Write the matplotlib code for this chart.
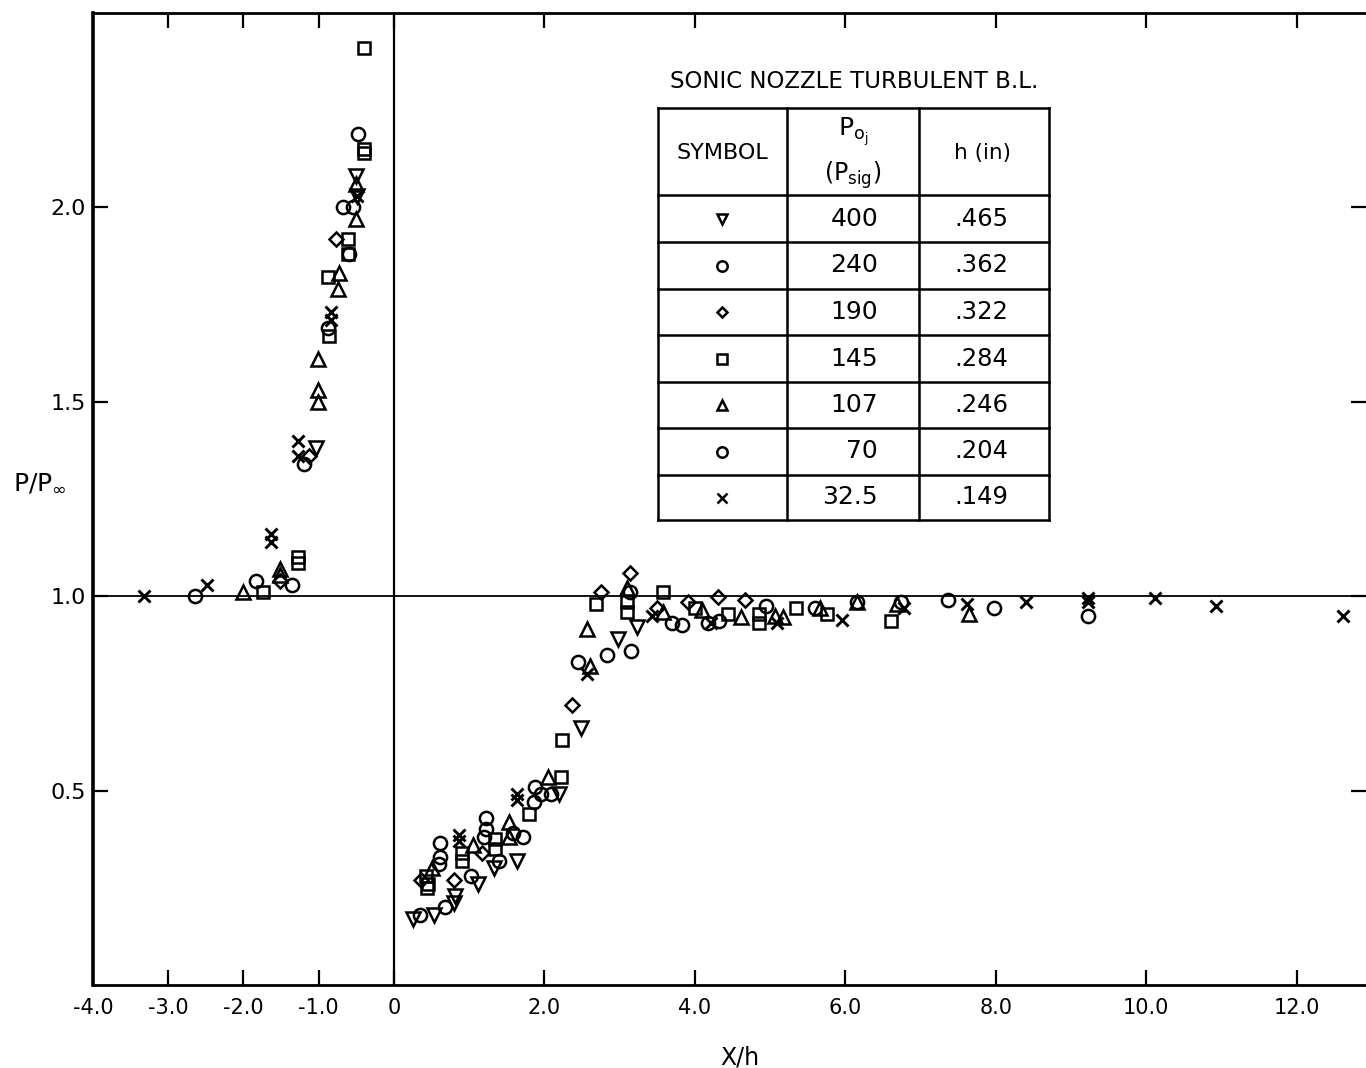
import matplotlib
matplotlib.use("Agg")
import matplotlib.pyplot as plt

plt.rcParams['font.family'] = ['DejaVu Sans']
plt.rcParams['mathtext.fontset'] = 'dejavusans'

# series: (label, marker, x/h values, P/Pinf values)
tri_down_x = [-1.03, -0.50, -0.49, 0.25, 0.53, 0.81, 0.80, 1.12, 1.33, 1.63, 2.19, 2.49, 2.98, 3.23]
tri_down_y = [1.38, 2.08, 2.03, 0.17, 0.18, 0.23, 0.21, 0.26, 0.30, 0.32, 0.49, 0.66, 0.89, 0.92]

circ240_x = [-1.36, -1.19, -0.68, -0.60, -0.48, 0.34, 0.61, 1.22, 1.20, 1.58, 1.87, 2.09, 2.45,
             3.15, 3.69, 4.17, 4.95, 6.74, 7.97]
circ240_y = [1.03, 1.34, 2.00, 1.88, 2.19, 0.18, 0.365, 0.43, 0.38, 0.39, 0.51, 0.49, 0.83,
             0.86, 0.93, 0.93, 0.975, 0.985, 0.97]

diam_x = [-1.51, -1.13, -0.77, 0.36, 0.80, 1.17, 2.37, 2.75, 3.14, 3.50, 3.91, 4.31, 4.67]
diam_y = [1.04, 1.36, 1.92, 0.27, 0.27, 0.34, 0.72, 1.01, 1.06, 0.97, 0.985, 0.997, 0.99]

sq_x = [-1.74, -1.28, -1.28, -0.86, -0.87, -0.61, -0.61, -0.40, -0.40, -0.40,
        0.42, 0.44, 0.45, 0.90, 0.90, 1.34, 1.34, 1.80, 2.22, 2.24, 2.68, 3.10, 3.10,
        3.58, 4.00, 4.44, 4.85, 4.85, 5.34, 5.76, 6.61]
sq_y = [1.01, 1.10, 1.085, 1.67, 1.82, 1.92, 1.88, 2.14, 2.15, 2.41,
        0.28, 0.25, 0.26, 0.34, 0.32, 0.375, 0.35, 0.44, 0.535, 0.63, 0.98, 0.985, 0.96,
        1.01, 0.97, 0.955, 0.955, 0.93, 0.97, 0.955, 0.935]

tri_up_x = [-2.01, -1.51, -1.51, -1.01, -1.01, -1.01, -0.74, -0.73, -0.50, -0.50,
            0.51, 1.05, 1.53, 1.53, 2.05, 2.56, 2.60, 3.10, 3.57, 4.10, 4.61, 5.06, 5.17,
            5.66, 6.16, 6.68, 7.64]
tri_up_y = [1.01, 1.07, 1.055, 1.61, 1.53, 1.50, 1.79, 1.83, 1.97, 2.06,
            0.30, 0.36, 0.42, 0.38, 0.535, 0.915, 0.82, 1.02, 0.96, 0.965, 0.947, 0.95, 0.946,
            0.97, 0.985, 0.98, 0.955]

circ70_x = [-2.65, -1.83, -0.87, -0.54, 0.68, 0.60, 0.61, 1.02, 1.22, 1.39, 1.72, 1.86, 1.95,
            2.83, 3.14, 3.83, 4.32, 5.59, 6.16, 7.36, 9.23]
circ70_y = [1.00, 1.04, 1.69, 2.00, 0.20, 0.31, 0.33, 0.28, 0.40, 0.32, 0.38, 0.47, 0.49,
            0.85, 1.01, 0.925, 0.935, 0.97, 0.985, 0.99, 0.95]

cross_x = [-3.32, -2.49, -1.64, -1.64, -1.27, -1.27, -0.83, -0.83, -0.49,
           0.86, 0.86, 1.64, 1.64, 2.57, 3.43, 4.22, 5.09, 5.95, 6.78, 7.62, 8.40,
           9.22, 9.22, 10.12, 10.93, 12.62]
cross_y = [1.00, 1.03, 1.16, 1.14, 1.40, 1.36, 1.73, 1.71, 2.03,
           0.385, 0.37, 0.49, 0.475, 0.80, 0.95, 0.93, 0.93, 0.94, 0.97, 0.98, 0.985,
           0.995, 0.985, 0.995, 0.974, 0.95]

pressures = ["400", "240", "190", "145", "107", "70", "32.5"]
heights = [".465", ".362", ".322", ".284", ".246", ".204", ".149"]

xticks = [-4, -3, -2, -1, 0, 2, 4, 6, 8, 10, 12]
xticklabels = ["-4.0", "-3.0", "-2.0", "-1.0", "0", "2.0", "4.0", "6.0", "8.0", "10.0", "12.0"]
yticks = [0.5, 1.0, 1.5, 2.0]
yticklabels = ["0.5", "1.0", "1.5", "2.0"]

series = [
    (tri_down_x, tri_down_y, 'v', 9.5),
    (circ240_x, circ240_y, 'o', 9.5),
    (diam_x, diam_y, 'D', 6.8),
    (sq_x, sq_y, 's', 8.8),
    (tri_up_x, tri_up_y, '^', 9.5),
    (circ70_x, circ70_y, 'o', 9.5),
    (cross_x, cross_y, 'x', 8.5),
]

W, H = 1366, 1068
fig = plt.figure(figsize=(W / 100, H / 100), dpi=100)
ax = fig.add_axes([93 / W, (H - 985) / H, (W - 93) / W, (985 - 13) / H])

for xs, ys, m, ms in series:
    ax.plot(xs, ys, linestyle='none', marker=m, ms=ms, mfc='none', mec='black',
            mew=1.8 if m != 'x' else 2.1)

ax.axvline(0, color='black', lw=1.6, zorder=1)
ax.axhline(1.0, color='black', lw=1.3, zorder=1)

ax.set_xlim(-4, 12.92)
ax.set_ylim(0, 2.5)
ax.set_xticks(xticks)
ax.set_xticklabels(xticklabels)
ax.set_yticks(yticks)
ax.set_yticklabels(yticklabels)
ax.tick_params(direction='in', length=11, width=1.6, labelsize=15, top=True, right=True)
ax.tick_params(axis='x', pad=9)
ax.tick_params(axis='y', pad=5, labelsize=16)
for side in ['left', 'bottom', 'top']:
    ax.spines[side].set_linewidth(2.0)
ax.spines['left'].set_linewidth(2.6)
ax.spines['right'].set_visible(False)

ax.set_xlabel("X/h", fontsize=17)
ax.xaxis.set_label_coords((740 - 93) / (W - 93), -0.062)
fig.text(40 / W, 1 - 482 / H, r"P/P$_\infty$", fontsize=18, ha='center', va='center')

# legend table, laid out in pixel units on an overlay
ov = fig.add_axes([0, 0, 1, 1], zorder=5)
ov.set_xlim(0, W)
ov.set_ylim(H, 0)
ov.axis('off')

tx0, tx1 = 658, 1049
cols = [658, 787, 919, 1049]
rows = [108, 195, 242, 289, 335, 382, 428, 475, 520]
for c in cols:
    ov.plot([c, c], [rows[0], rows[-1]], color='black', lw=1.8)
for r in rows:
    ov.plot([tx0, tx1], [r, r], color='black', lw=1.8)

ov.text(854, 82, "SONIC NOZZLE TURBULENT B.L.", fontsize=16.5, ha='center', va='center')
ov.text(722, 153, "SYMBOL", fontsize=16, ha='center', va='center')
ov.text(853, 132, r"$\mathregular{P_{o_j}}$", fontsize=18, ha='center', va='center')
ov.text(853, 175, r"$\mathregular{(P_{sig})}$", fontsize=17, ha='center', va='center')
ov.text(983, 153, "h (in)", fontsize=15.5, ha='center', va='center')

table_ms = {'v': 7.5, 'o': 7.5, 'D': 5.5, 's': 7, '^': 7.5, 'x': 7}
for i, (xs, ys, m, ms) in enumerate(series):
    yc = (rows[i + 1] + rows[i + 2]) / 2
    ov.plot([722], [yc], linestyle='none', marker=m, ms=table_ms[m], mfc='none',
            mec='black', mew=1.8)
    ov.text(878, yc, pressures[i], fontsize=18, ha='right', va='center')
    ov.text(981, yc, heights[i], fontsize=17.5, ha='center', va='center')

fig.savefig("out.png", dpi=100)
